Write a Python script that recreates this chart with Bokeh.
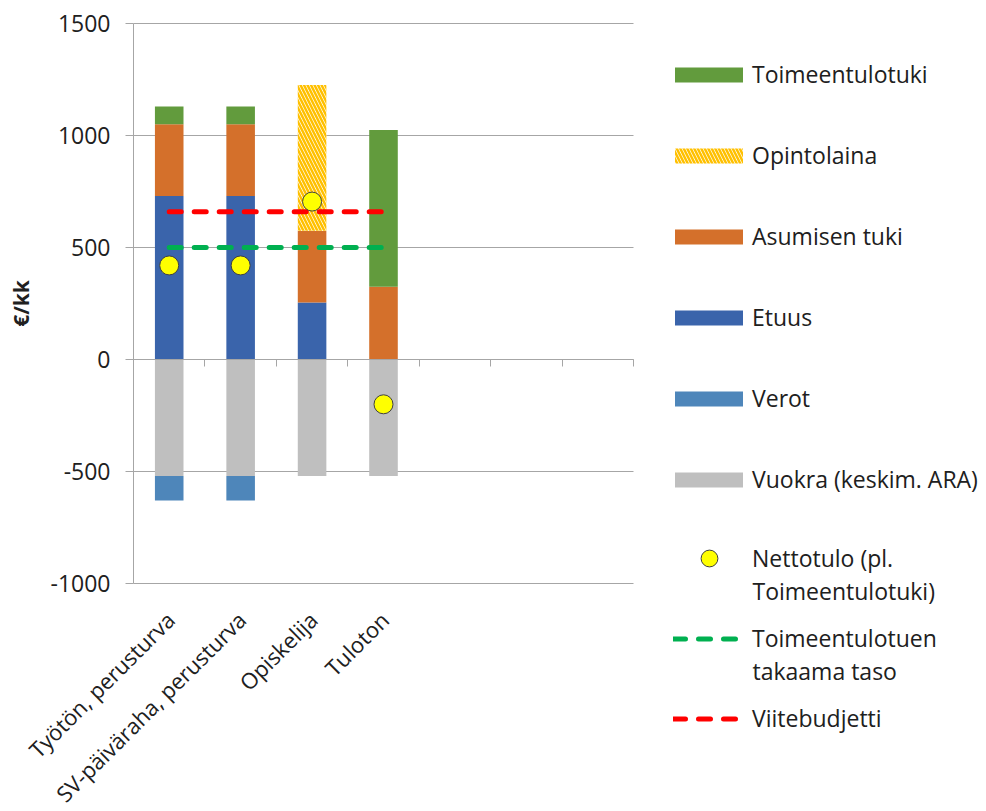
import math
from bokeh.plotting import figure
from bokeh.models import (ColumnDataSource, Range1d, LinearAxis, FixedTicker,
                          Legend, LegendItem, Label)
from bokeh.core.properties import value
from bokeh.transform import stack
from bokeh.embed import file_html
from bokeh.resources import INLINE

# ---------------- data ----------------
categories = ["Työtön, perusturva", "SV-päiväraha, perusturva", "Opiskelija", "Tuloton"]
n_slots = 7
etuus = [730, 730, 255, 0]
asumisen_tuki = [320, 320, 320, 325]
opintolaina = [0, 0, 650, 0]
toimeentulotuki = [80, 80, 0, 700]
vuokra = [-520, -520, -520, -520]
verot = [-110, -110, 0, 0]
nettotulo = [420, 420, 705, -200]
toimeentulotuen_taso = 500
viitebudjetti = 660
y_ticks = [-1000, -500, 0, 500, 1000, 1500]

# ---------------- styles ----------------
FONT = "Open Sans"
TXT = "#202020"
GRID = "#A6A6A6"
C_TT = "#629B3D"
C_OL = "#FFC000"
C_AT = "#D4702B"
C_ET = "#3A64AB"
C_VE = "#4E86BA"
C_VU = "#BFBFBF"
C_GREEN = "#00B050"
C_RED = "#FF0000"

# geometry (px): chart area 500x560 with its top-left corner at (133, 23);
# the frame covers the whole figure so that labels and legends are not clipped
FIG_W, FIG_H = 986, 811
PLOT_LEFT, PLOT_TOP, PLOT_W, PLOT_H = 133, 23, 500, 560
y_lo, y_hi = y_ticks[0], y_ticks[-1]
ux = n_slots / PLOT_W            # data units per px (x)
uy = (y_hi - y_lo) / PLOT_H      # data units per px (y)
x_start = -PLOT_LEFT * ux
x_end = x_start + FIG_W * ux
y_end = y_hi + PLOT_TOP * uy
y_start = y_end - FIG_H * uy

x = [i + 0.5 for i in range(len(categories))]
src = ColumnDataSource(dict(x=x, etuus=etuus, asumisen_tuki=asumisen_tuki,
                            opintolaina=opintolaina, toimeentulotuki=toimeentulotuki,
                            vuokra=vuokra, verot=verot, nettotulo=nettotulo,
                            taso=[toimeentulotuen_taso] * len(categories),
                            viite=[viitebudjetti] * len(categories),
                            base=[y_lo] * len(categories), cat=categories))

p = figure(width=FIG_W, height=FIG_H,
           x_range=Range1d(x_start, x_end), y_range=Range1d(y_start, y_end),
           output_backend="svg", toolbar_location=None,
           x_axis_location=None, y_axis_location=None,
           min_border_left=0, min_border_right=0, min_border_top=0, min_border_bottom=0)
p.outline_line_color = None
p.xgrid.visible = False
p.ygrid.visible = False

# horizontal gridlines limited to the chart area
p.segment(x0=[0] * len(y_ticks), x1=[n_slots] * len(y_ticks), y0=y_ticks, y1=y_ticks,
          line_color=GRID, line_width=1)

yax = LinearAxis(fixed_location=0, bounds=(y_lo, y_hi),
                 ticker=FixedTicker(ticks=y_ticks),
                 major_label_overrides={t: str(t) for t in y_ticks},
                 minor_tick_line_color=None, major_tick_in=0, major_tick_out=8,
                 major_tick_line_color=GRID, axis_line_color=GRID,
                 major_label_text_font=FONT, major_label_text_font_size="23px",
                 major_label_text_color=TXT, major_label_standoff=15,
                 axis_label="€/kk", axis_label_text_font=FONT,
                 axis_label_text_font_size="21px", axis_label_text_font_style="bold",
                 axis_label_text_color=TXT, axis_label_standoff=12)
p.add_layout(yax, "left")

zero_axis = LinearAxis(fixed_location=0, bounds=(0, n_slots),
                       ticker=FixedTicker(ticks=list(range(1, n_slots + 1))),
                       major_label_text_color=None, major_label_text_font_size="0px",
                       major_tick_in=0, major_tick_out=7,
                       minor_tick_line_color=None, axis_line_color=GRID,
                       major_tick_line_color=GRID)
p.add_layout(zero_axis, "below")

W = 0.4
r_et = p.vbar(x="x", width=W, bottom=stack(), top=stack("etuus"), source=src,
              fill_color=C_ET, line_color=None)
r_at = p.vbar(x="x", width=W, bottom=stack("etuus"), top=stack("etuus", "asumisen_tuki"),
              source=src, fill_color=C_AT, line_color=None)
r_ol = p.vbar(x="x", width=W, bottom=stack("etuus", "asumisen_tuki"),
              top=stack("etuus", "asumisen_tuki", "opintolaina"), source=src,
              fill_color="white", line_color=None, hatch_pattern="\\", hatch_color=C_OL,
              hatch_scale=7, hatch_weight=2.5)
r_tt = p.vbar(x="x", width=W, bottom=stack("etuus", "asumisen_tuki", "opintolaina"),
              top=stack("etuus", "asumisen_tuki", "opintolaina", "toimeentulotuki"),
              source=src, fill_color=C_TT, line_color=None)
r_vu = p.vbar(x="x", width=W, bottom=stack(), top=stack("vuokra"), source=src,
              fill_color=C_VU, line_color=None)
r_ve = p.vbar(x="x", width=W, bottom=stack("vuokra"), top=stack("vuokra", "verot"),
              source=src, fill_color=C_VE, line_color=None)

r_green = p.line(x="x", y="taso", source=src, line_color=C_GREEN, line_width=5,
                 line_dash="12 13", line_cap="round")
r_red = p.line(x="x", y="viite", source=src, line_color=C_RED, line_width=5,
               line_dash="12 13", line_cap="round")
r_pt = p.scatter(x="x", y="nettotulo", source=src, size=19, fill_color="#FFFF00",
                 line_color="#404040", line_width=1)

# category labels, rotated like the reference
p.text(x="x", y="base", text="cat", source=src, angle=math.pi / 4,
       text_align="right", text_baseline="middle", x_offset=1, y_offset=32,
       text_font=value(FONT), text_font_size="22px", text_color=TXT)


def mk_legend(items, x0, center, gw, gh, lh, sp, standoff, n=1):
    h = max(gh, lh) * n + sp * (n - 1)
    top = center - max(gh, lh) / 2
    return Legend(items=items, location=(x0, FIG_H - top - h), orientation="vertical",
                  glyph_width=gw, glyph_height=gh, label_height=lh, spacing=sp,
                  label_standoff=standoff, padding=0, margin=0,
                  border_line_color=None, background_fill_alpha=0,
                  label_text_font=FONT, label_text_font_size="23px",
                  label_text_color=TXT)


def continuation(text, center):
    return Label(x=752, y=FIG_H - center, x_units="screen", y_units="screen",
                 text=text, text_baseline="middle", text_align="left",
                 text_font=FONT, text_font_size="23px", text_color=TXT)


LH = 32
# area swatches are drawn with a 10% inset, so the glyph box is a bit larger
leg1 = mk_legend([LegendItem(label="Toimeentulotuki", renderers=[r_tt]),
                  LegendItem(label="Opintolaina", renderers=[r_ol]),
                  LegendItem(label="Asumisen tuki", renderers=[r_at]),
                  LegendItem(label="Etuus", renderers=[r_et]),
                  LegendItem(label="Verot", renderers=[r_ve]),
                  LegendItem(label="Vuokra (keskim. ARA)", renderers=[r_vu])],
                 666, 74, 85, 19, LH, 49, 1, n=6)
p.add_layout(leg1)

leg2 = mk_legend([LegendItem(label="Nettotulo (pl.", renderers=[r_pt])],
                 675, 558, 68, 42, LH, 0, 9)
p.add_layout(leg2)
p.add_layout(continuation("Toimeentulotuki)", 590))

leg3 = mk_legend([LegendItem(label="Toimeentulotuen", renderers=[r_green])],
                 673, 638, 70, 15, LH, 0, 9)
p.add_layout(leg3)
p.add_layout(continuation("takaama taso", 670))

leg4 = mk_legend([LegendItem(label="Viitebudjetti", renderers=[r_red])],
                 673, 718, 70, 15, LH, 0, 9)
p.add_layout(leg4)

open("out.html", "w").write(file_html(p, INLINE))
